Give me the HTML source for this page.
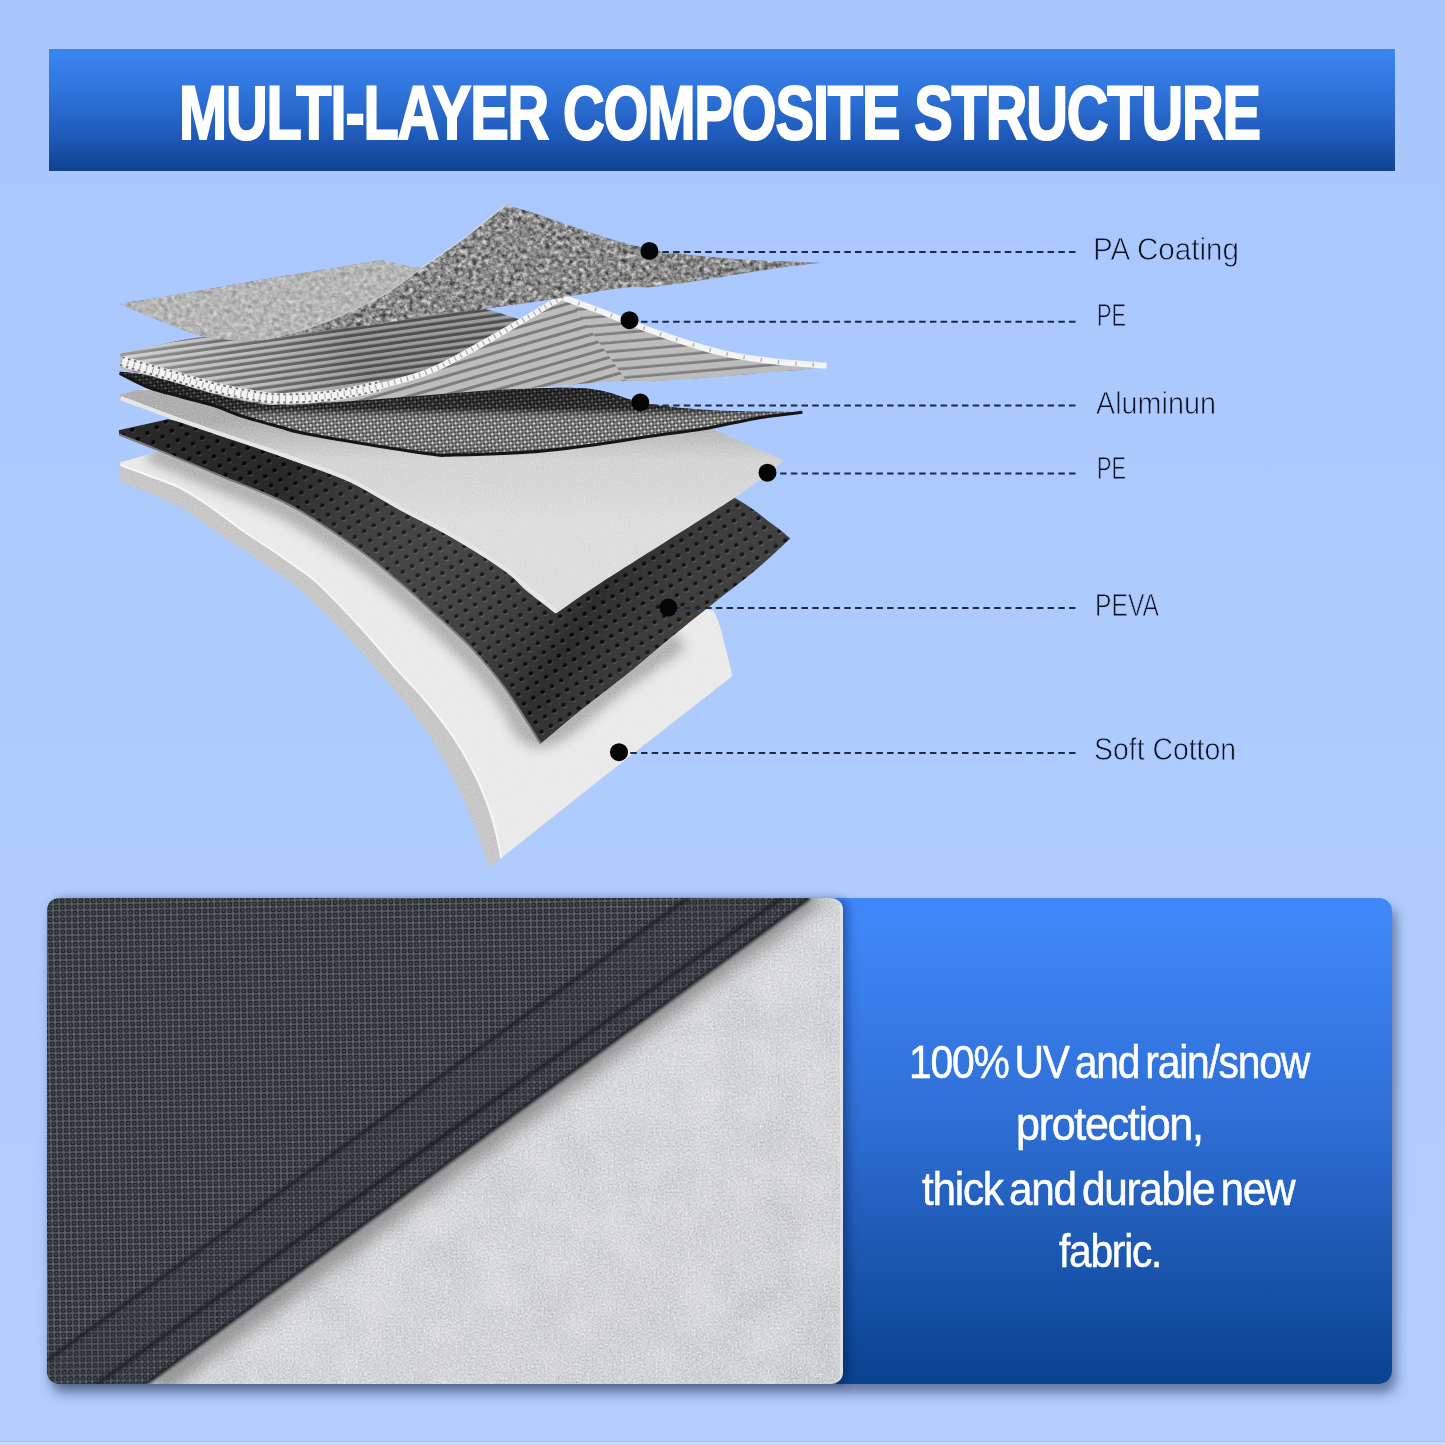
<!DOCTYPE html>
<html><head><meta charset="utf-8"><style>
*{margin:0;padding:0;box-sizing:border-box}
html,body{width:1445px;height:1445px;overflow:hidden}
body{background:linear-gradient(#a9c7fd,#afccfd 60%,#b2cefd);position:relative;font-family:"Liberation Sans",sans-serif}
#banner{position:absolute;left:49px;top:49px;width:1346px;height:122px;background:linear-gradient(#3a86f0 0%,#2f74db 35%,#1f5bbb 70%,#0f4290 100%)}
.ttl{position:absolute;color:#fff;font-weight:bold;line-height:1;white-space:nowrap;transform-origin:0 0;letter-spacing:-0.02em;-webkit-text-stroke:0.028em #fff}
svg{position:absolute;left:0;top:0}
.lab{position:absolute;line-height:1;color:#0b0f22;white-space:nowrap;transform-origin:0 0;-webkit-text-stroke:0.8px #abc9fe}
.bt{position:absolute;line-height:1;color:#fff;white-space:nowrap;transform-origin:0 0;letter-spacing:-0.03em;word-spacing:-0.1em;-webkit-text-stroke:0.012em #fff}
#panel{position:absolute;left:47px;top:898px;width:1345px;height:486px;border-radius:13px;background:linear-gradient(#4189fb,#2f6fd6 45%,#0a428f);box-shadow:4px 9px 12px rgba(25,35,75,0.5)}
#photo{position:absolute;left:47px;top:898px;width:796px;height:486px;border-radius:12px;overflow:hidden;box-shadow:6px 0 8px rgba(0,20,60,0.35)}
</style></head><body>
<div id="banner"></div>
<div class="ttl" style="left:179.41px;top:75.81px;font-size:75.63px;transform:scaleX(0.7640);">MULTI-LAYER COMPOSITE STRUCTURE</div>
<svg width="1445" height="1445" viewBox="0 0 1445 1445">
<defs>
<filter id="nz" x="0" y="0" width="1" height="1" filterUnits="objectBoundingBox" color-interpolation-filters="sRGB">
<feTurbulence type="fractalNoise" baseFrequency="0.22" numOctaves="3" seed="4"/>
<feColorMatrix type="matrix" values="0.33 0.33 0.33 0 0  0.33 0.33 0.33 0 0  0.33 0.33 0.33 0 0  0 0 0 0 1"/>
<feComponentTransfer><feFuncR type="linear" slope="2.6" intercept="-0.8"/><feFuncG type="linear" slope="2.6" intercept="-0.8"/><feFuncB type="linear" slope="2.6" intercept="-0.8"/></feComponentTransfer>
</filter>
<filter id="nz2" x="0" y="0" width="1" height="1" filterUnits="objectBoundingBox" color-interpolation-filters="sRGB">
<feTurbulence type="fractalNoise" baseFrequency="0.9" numOctaves="2" seed="7"/>
<feColorMatrix type="matrix" values="0.33 0.33 0.33 0 0  0.33 0.33 0.33 0 0  0.33 0.33 0.33 0 0  0 0 0 0 1"/>
<feComponentTransfer><feFuncR type="linear" slope="2" intercept="-0.5"/><feFuncG type="linear" slope="2" intercept="-0.5"/><feFuncB type="linear" slope="2" intercept="-0.5"/></feComponentTransfer>
</filter>
<filter id="bl3" x="-0.2" y="-0.2" width="1.4" height="1.4"><feGaussianBlur stdDeviation="3"/></filter>
<filter id="bl6" x="-0.2" y="-0.2" width="1.4" height="1.4"><feGaussianBlur stdDeviation="6"/></filter>
<filter id="bl10" x="-0.3" y="-0.3" width="1.6" height="1.6"><feGaussianBlur stdDeviation="10"/></filter>
<pattern id="stripesL" width="9" height="6.6" patternUnits="userSpaceOnUse" patternTransform="rotate(-8)"><rect width="9" height="6.6" fill="#b8b8b8"/><rect y="3.4" width="9" height="3.2" fill="#5e5e5e"/></pattern>
<linearGradient id="peLShade" gradientUnits="userSpaceOnUse" x1="150" y1="390" x2="330" y2="300"><stop offset="0" stop-color="#fff" stop-opacity="0.35"/><stop offset="0.45" stop-color="#fff" stop-opacity="0.1"/><stop offset="1" stop-color="#000" stop-opacity="0.15"/></linearGradient>
<pattern id="stripesR" width="9" height="9" patternUnits="userSpaceOnUse" patternTransform="rotate(-16)"><rect width="9" height="9" fill="#bcbcbc"/><rect y="6" width="9" height="3" fill="#7c7c7c"/></pattern>
<pattern id="stripesR2" width="9" height="9" patternUnits="userSpaceOnUse" patternTransform="rotate(-5)"><rect width="9" height="9" fill="#bcbcbc"/><rect y="6.3" width="9" height="2.7" fill="#7e7e7e"/></pattern>
<pattern id="checker" width="5" height="5" patternUnits="userSpaceOnUse" patternTransform="rotate(40)"><rect width="5" height="5" fill="#2a2a2a"/><rect width="2.5" height="2.5" fill="#d0d0d0"/><rect x="2.5" y="2.5" width="2.5" height="2.5" fill="#777"/></pattern>
<pattern id="holes" width="11" height="11" patternUnits="userSpaceOnUse" patternTransform="rotate(-32)"><rect width="11" height="11" fill="#363636"/><circle cx="5.5" cy="5.5" r="2.3" fill="#080808"/><path d="M3.4,6.9 a2.4,2.4 0 0 0 4.2,0.3" stroke="#8a8a8a" stroke-width="0.7" fill="none"/></pattern>
<linearGradient id="pevaSheen" gradientUnits="userSpaceOnUse" x1="300" y1="450" x2="700" y2="700"><stop offset="0" stop-color="#000" stop-opacity="0.25"/><stop offset="0.45" stop-color="#fff" stop-opacity="0.07"/><stop offset="0.7" stop-color="#000" stop-opacity="0.15"/><stop offset="1" stop-color="#fff" stop-opacity="0.05"/></linearGradient>
<linearGradient id="aluShade" gradientUnits="userSpaceOnUse" x1="0" y1="388" x2="0" y2="456"><stop offset="0" stop-color="#000" stop-opacity="0.6"/><stop offset="0.3" stop-color="#000" stop-opacity="0.5"/><stop offset="0.5" stop-color="#fff" stop-opacity="0.15"/><stop offset="0.85" stop-color="#fff" stop-opacity="0.15"/><stop offset="1" stop-color="#000" stop-opacity="0.25"/></linearGradient>
<linearGradient id="pe2Shade" gradientUnits="userSpaceOnUse" x1="0" y1="420" x2="0" y2="520"><stop offset="0" stop-color="#000" stop-opacity="0.2"/><stop offset="0.4" stop-color="#000" stop-opacity="0.03"/><stop offset="1" stop-color="#fff" stop-opacity="0.05"/></linearGradient>

<clipPath id="cCotO"><path d="M119.9,462.4 C132.5,458.8 145.2,455.1 157.8,451.5 C238.5,477.7 326.3,507.8 400.0,530.0 C473.7,552.2 547.8,571.6 600.0,585.0 C652.2,598.4 675.7,601.9 713.5,610.4 C715.8,616.2 717.2,616.8 720.4,627.7 C723.6,638.7 728.5,660.0 732.5,676.1 C678.3,718.5 608.6,773.0 570.0,803.4 C531.4,833.8 514.5,847.5 501.0,858.2 C487.5,868.9 493.0,864.5 489.0,867.6 C485.5,857.4 482.8,848.3 478.6,837.0 C474.4,825.7 469.2,812.2 463.6,799.7 C458.0,787.2 452.2,775.2 444.9,762.3 C437.6,749.3 431.7,737.8 420.0,722.0 C408.3,706.2 389.1,684.3 374.6,667.6 C360.1,650.9 345.4,634.9 333.0,622.0 C320.6,609.1 309.7,598.6 300.0,590.0 C290.3,581.4 284.0,577.1 274.6,570.4 C265.2,563.7 253.8,556.6 243.4,549.7 C233.0,542.8 222.7,535.8 212.3,528.9 C201.9,522.0 191.5,514.0 181.1,508.1 C170.7,502.2 160.2,498.1 150.0,493.6 C139.8,489.1 130.0,485.2 120.0,481.0 C120.0,474.8 119.9,468.6 119.9,462.4Z"/></clipPath><clipPath id="cCotT"><path d="M119.9,462.4 C132.5,458.8 145.2,455.1 157.8,451.5 C238.5,477.7 326.3,507.8 400.0,530.0 C473.7,552.2 547.8,571.6 600.0,585.0 C652.2,598.4 675.7,601.9 713.5,610.4 C715.8,616.2 717.2,616.8 720.4,627.7 C723.6,638.7 728.5,660.0 732.5,676.1 C678.3,718.5 608.6,773.0 570.0,803.4 C531.4,833.8 524.0,839.9 501.0,858.2 C500.6,855.3 501.1,856.1 499.7,849.5 C498.2,842.9 496.0,830.0 492.3,818.4 C488.6,806.8 483.8,793.2 477.3,779.7 C470.9,766.2 462.3,750.7 453.6,737.4 C444.9,724.1 434.7,711.6 425.0,700.0 C415.3,688.4 406.0,679.7 395.3,667.6 C384.6,655.5 373.4,641.3 360.7,627.5 C348.0,613.7 329.3,594.3 319.2,584.6 C309.1,574.9 307.4,574.9 300.0,569.4 C292.6,563.9 284.0,558.1 274.6,551.7 C265.2,545.3 253.8,538.3 243.4,531.0 C233.0,523.7 222.7,515.2 212.3,508.1 C201.9,501.0 191.5,493.8 181.1,488.4 C170.7,483.0 160.1,479.9 150.0,476.0 C139.9,472.1 130.3,468.7 120.5,465.0 C120.3,464.1 120.1,463.3 119.9,462.4Z"/></clipPath><clipPath id="cPeva"><path d="M118.8,430.2 C135.2,426.6 151.7,422.9 168.1,419.3 C245.4,436.2 334.7,466.6 400.0,470.0 C465.3,473.4 518.3,442.5 560.0,440.0 C601.7,437.5 621.1,445.5 650.0,455.0 C678.9,464.5 712.7,485.3 733.2,496.9 C753.7,508.5 763.5,517.7 773.0,524.6 C782.5,531.5 784.5,533.8 790.3,538.4 C778.8,548.9 768.7,559.1 755.7,570.0 C742.7,580.9 727.0,592.5 712.5,604.0 C698.0,615.5 682.8,627.7 669.0,639.0 C655.2,650.3 644.5,660.0 630.0,671.7 C615.5,683.4 597.1,697.0 582.2,709.0 C567.3,721.0 554.5,732.1 540.7,743.6 C529.2,725.6 517.6,705.6 506.1,689.7 C494.6,673.8 484.2,661.5 471.5,648.1 C458.8,634.7 441.6,620.0 430.0,609.4 C418.4,598.8 414.0,594.5 402.2,584.6 C390.4,574.7 377.9,563.2 359.3,550.0 C340.7,536.8 313.4,517.8 290.3,505.5 C267.2,493.2 243.3,485.4 221.0,476.0 C198.7,466.6 173.6,456.3 156.7,449.4 C139.8,442.5 131.8,439.5 119.3,434.5 C119.1,433.1 119.0,431.6 118.8,430.2Z"/></clipPath><clipPath id="cPe2"><path d="M120.4,394.6 C129.9,392.7 135.5,388.3 148.8,389.0 C162.1,389.7 174.8,393.0 200.0,399.0 C225.2,405.0 258.3,417.2 300.0,425.0 C341.7,432.8 400.0,444.2 450.0,446.0 C500.0,447.8 561.7,441.2 600.0,436.0 C638.3,430.8 653.3,422.0 680.0,415.0 C714.8,430.2 749.5,445.4 784.3,460.6 C769.0,472.1 769.1,474.7 738.4,495.2 C707.7,515.7 630.4,563.7 600.0,583.4 C569.6,603.1 570.7,603.5 556.0,613.5 C545.8,605.7 533.9,597.0 525.5,590.0 C517.1,583.0 517.6,579.9 505.7,571.3 C493.8,562.7 471.1,548.5 453.8,538.4 C436.5,528.3 419.2,520.1 401.9,510.7 C384.6,501.3 367.0,489.9 350.0,482.0 C333.0,474.1 314.5,468.3 300.0,463.0 C285.5,457.7 276.2,454.7 263.0,450.0 C249.8,445.3 236.8,440.4 221.0,435.0 C205.2,429.6 185.0,423.4 168.1,417.3 C151.2,411.2 135.8,404.7 119.7,398.4 C119.9,397.1 120.2,395.9 120.4,394.6Z"/></clipPath><clipPath id="cAlu"><path d="M119.7,371.5 C179.8,378.3 244.9,388.8 300.0,392.0 C355.1,395.2 403.6,391.7 450.0,391.0 C496.4,390.3 548.6,386.6 578.6,388.0 C608.6,389.4 619.8,396.9 630.0,399.4 C640.2,401.9 627.5,401.1 639.8,402.8 C652.1,404.5 676.7,408.1 703.8,409.7 C730.9,411.3 769.5,411.4 802.4,412.3 C786.8,414.3 772.1,415.6 755.7,418.4 C739.3,421.1 721.1,425.9 703.8,428.8 C686.5,431.7 669.2,433.5 651.9,436.0 C634.6,438.5 620.3,441.3 600.0,444.0 C579.7,446.7 554.4,450.2 530.0,452.0 C505.6,453.8 470.5,454.7 453.8,455.0 C437.1,455.3 446.8,456.2 430.0,454.0 C413.2,451.8 374.7,445.5 353.0,442.0 C331.3,438.5 312.2,435.4 300.0,433.0 C287.8,430.6 290.0,430.3 280.0,427.5 C270.0,424.7 251.0,419.5 240.0,416.0 C229.0,412.5 224.0,409.7 214.0,406.5 C204.0,403.3 190.9,400.1 180.0,397.0 C169.1,393.9 158.9,391.8 148.8,388.0 C138.8,384.2 129.4,379.0 119.7,374.5 C119.7,373.5 119.7,372.5 119.7,371.5Z"/></clipPath><clipPath id="cPe"><path d="M120.4,353.8 C144.6,348.6 169.7,341.8 193.0,338.2 C216.3,334.6 233.8,334.7 260.0,332.0 C286.2,329.3 321.7,325.2 350.0,322.0 C378.3,318.8 408.8,314.8 430.0,312.5 C451.2,310.2 462.1,306.9 477.0,308.0 C491.9,309.1 505.3,315.6 519.4,319.4 C533.6,311.1 547.8,302.8 562.0,294.5 C574.7,299.3 590.3,305.1 600.0,309.0 C609.7,312.9 608.6,313.5 620.1,318.0 C631.6,322.5 652.4,330.4 669.2,336.0 C686.0,341.6 703.7,347.6 721.0,351.6 C738.3,355.7 755.4,358.0 773.0,360.3 C790.6,362.6 808.7,363.8 826.6,365.6 C820.3,366.7 819.4,367.7 807.6,369.0 C795.8,370.3 773.0,371.9 755.7,373.4 C738.4,374.8 721.1,376.4 703.8,377.7 C686.5,379.0 664.2,380.7 651.9,381.2 C639.6,381.7 642.2,380.0 630.0,380.5 C617.8,381.0 595.3,382.8 578.6,384.0 C561.9,385.2 546.4,386.8 530.0,388.0 C513.6,389.2 496.7,389.8 480.0,391.0 C463.3,392.2 446.7,393.7 430.0,395.0 C413.3,396.3 396.4,397.8 380.0,399.0 C363.6,400.2 348.6,401.3 331.9,402.3 C315.2,403.3 293.6,405.1 280.0,405.0 C266.4,404.9 261.0,403.8 250.0,402.0 C239.0,400.2 225.7,397.0 214.0,394.0 C202.3,391.0 190.7,387.0 180.0,384.0 C169.3,381.0 159.8,378.5 150.0,376.0 C140.2,373.5 130.9,371.3 121.4,369.0 C121.1,363.9 120.7,358.9 120.4,353.8Z"/></clipPath><clipPath id="cPa"><path d="M120.4,304.0 C141.2,300.5 159.4,297.6 182.7,293.6 C206.0,289.6 232.1,284.8 260.0,280.1 C287.9,275.4 330.0,268.8 350.0,265.5 C370.0,262.2 373.3,261.2 380.0,260.6 C386.7,260.1 385.2,261.2 390.4,262.2 C395.6,263.2 405.8,265.9 411.0,266.8 C416.2,267.8 418.0,267.5 421.5,267.9 C435.3,258.2 449.0,249.3 463.0,238.8 C477.0,228.3 491.4,216.3 505.6,205.0 C513.7,207.3 514.3,206.7 530.0,211.8 C545.7,216.9 582.6,230.2 600.0,235.8 C617.4,241.4 623.1,242.7 634.6,245.4 C646.1,248.2 651.9,250.0 669.2,252.3 C686.5,254.6 713.0,257.5 738.4,259.2 C763.8,260.9 793.8,261.5 821.5,262.7 C805.3,264.7 792.6,265.8 773.0,268.7 C753.4,271.6 724.0,277.0 703.8,280.0 C683.6,283.0 664.2,285.7 651.9,286.9 C639.6,288.1 638.6,286.6 630.0,287.3 C621.4,288.0 614.6,288.9 600.0,291.2 C585.4,293.4 562.0,297.8 542.3,300.8 C522.6,303.8 500.1,307.1 481.7,309.4 C463.3,311.7 448.9,312.2 432.0,314.6 C415.1,317.0 397.0,321.4 380.0,324.0 C363.0,326.6 345.0,328.0 330.0,330.0 C315.0,332.0 301.7,334.3 290.0,336.0 C278.3,337.7 271.0,339.8 260.0,340.3 C249.0,340.9 234.5,340.2 224.2,339.3 C213.9,338.4 208.6,338.1 198.2,335.1 C187.8,332.2 174.9,326.8 161.9,321.6 C148.9,316.4 134.2,309.9 120.4,304.0Z"/></clipPath><clipPath id="cPaL"><path d="M120.4,304.0 C141.2,300.5 159.4,297.6 182.7,293.6 C206.0,289.6 232.1,284.8 260.0,280.1 C287.9,275.4 330.0,268.8 350.0,265.5 C370.0,262.2 373.3,261.2 380.0,260.6 C386.7,260.1 385.2,261.2 390.4,262.2 C395.6,263.2 405.8,265.9 411.0,266.8 C416.2,267.8 418.0,267.5 421.5,267.9 C414.6,273.1 407.7,278.5 400.8,283.4 C393.9,288.2 391.8,290.9 380.0,297.0 C368.2,303.1 345.0,313.8 330.0,320.0 C315.0,326.2 301.7,330.6 290.0,334.0 C278.3,337.4 271.0,339.4 260.0,340.3 C249.0,341.2 234.5,340.2 224.2,339.3 C213.9,338.4 208.6,338.1 198.2,335.1 C187.8,332.2 174.9,326.8 161.9,321.6 C148.9,316.4 134.2,309.9 120.4,304.0Z"/></clipPath><clipPath id="cPeL"><path d="M120.4,353.8 C144.6,348.6 169.7,341.8 193.0,338.2 C216.3,334.6 233.8,334.7 260.0,332.0 C286.2,329.3 321.7,325.2 350.0,322.0 C378.3,318.8 408.8,314.8 430.0,312.5 C451.2,310.2 462.1,306.9 477.0,308.0 C491.9,309.1 505.3,315.6 519.4,319.4 C533.6,311.1 547.8,302.8 562.0,294.5 C534.7,311.3 502.0,332.2 480.0,345.0 C458.0,357.8 446.7,364.2 430.0,371.0 C413.3,377.8 396.4,381.9 380.0,386.0 C363.6,390.1 348.6,393.4 331.9,395.5 C315.2,397.6 293.6,398.6 280.0,398.5 C266.4,398.4 261.0,396.8 250.0,395.0 C239.0,393.2 225.7,390.3 214.0,387.5 C202.3,384.7 190.7,381.0 180.0,378.0 C169.3,375.0 159.8,372.3 150.0,369.5 C140.2,366.7 125.8,362.4 121.0,361.0 C116.2,359.6 121.0,361.0 121.0,361.0 C120.8,358.6 120.6,356.2 120.4,353.8Z"/></clipPath>
</defs>
<path d="M119.9,462.4 C132.5,458.8 145.2,455.1 157.8,451.5 C238.5,477.7 326.3,507.8 400.0,530.0 C473.7,552.2 547.8,571.6 600.0,585.0 C652.2,598.4 675.7,601.9 713.5,610.4 C715.8,616.2 717.2,616.8 720.4,627.7 C723.6,638.7 728.5,660.0 732.5,676.1 C678.3,718.5 608.6,773.0 570.0,803.4 C531.4,833.8 514.5,847.5 501.0,858.2 C487.5,868.9 493.0,864.5 489.0,867.6 C485.5,857.4 482.8,848.3 478.6,837.0 C474.4,825.7 469.2,812.2 463.6,799.7 C458.0,787.2 452.2,775.2 444.9,762.3 C437.6,749.3 431.7,737.8 420.0,722.0 C408.3,706.2 389.1,684.3 374.6,667.6 C360.1,650.9 345.4,634.9 333.0,622.0 C320.6,609.1 309.7,598.6 300.0,590.0 C290.3,581.4 284.0,577.1 274.6,570.4 C265.2,563.7 253.8,556.6 243.4,549.7 C233.0,542.8 222.7,535.8 212.3,528.9 C201.9,522.0 191.5,514.0 181.1,508.1 C170.7,502.2 160.2,498.1 150.0,493.6 C139.8,489.1 130.0,485.2 120.0,481.0 C120.0,474.8 119.9,468.6 119.9,462.4Z" fill="#c8c8c8"/>
<path d="M119.9,462.4 C132.5,458.8 145.2,455.1 157.8,451.5 C238.5,477.7 326.3,507.8 400.0,530.0 C473.7,552.2 547.8,571.6 600.0,585.0 C652.2,598.4 675.7,601.9 713.5,610.4 C715.8,616.2 717.2,616.8 720.4,627.7 C723.6,638.7 728.5,660.0 732.5,676.1 C678.3,718.5 608.6,773.0 570.0,803.4 C531.4,833.8 524.0,839.9 501.0,858.2 C500.6,855.3 501.1,856.1 499.7,849.5 C498.2,842.9 496.0,830.0 492.3,818.4 C488.6,806.8 483.8,793.2 477.3,779.7 C470.9,766.2 462.3,750.7 453.6,737.4 C444.9,724.1 434.7,711.6 425.0,700.0 C415.3,688.4 406.0,679.7 395.3,667.6 C384.6,655.5 373.4,641.3 360.7,627.5 C348.0,613.7 329.3,594.3 319.2,584.6 C309.1,574.9 307.4,574.9 300.0,569.4 C292.6,563.9 284.0,558.1 274.6,551.7 C265.2,545.3 253.8,538.3 243.4,531.0 C233.0,523.7 222.7,515.2 212.3,508.1 C201.9,501.0 191.5,493.8 181.1,488.4 C170.7,483.0 160.1,479.9 150.0,476.0 C139.9,472.1 130.3,468.7 120.5,465.0 C120.3,464.1 120.1,463.3 119.9,462.4Z" fill="#ebebeb"/>
<g clip-path="url(#cCotT)"><path d="M150.0,452.0 C173.7,462.0 197.7,472.0 221.0,482.0 C244.3,492.0 267.0,499.5 290.0,512.0 C313.0,524.5 340.3,543.7 359.0,557.0 C377.7,570.3 390.2,582.0 402.0,592.0 C413.8,602.0 418.5,606.3 430.0,617.0 C441.5,627.7 458.3,642.5 471.0,656.0 C483.7,669.5 496.2,684.8 506.0,698.0 C515.8,711.2 521.0,729.7 530.0,735.0 C539.0,740.3 546.7,737.5 560.0,730.0 C573.3,722.5 590.0,705.0 610.0,690.0 C630.0,675.0 656.7,656.7 680.0,640.0" stroke="#8a8a8a" stroke-width="20" fill="none" filter="url(#bl6)" opacity="0.6"/></g>
<g clip-path="url(#cCotO)" style="mix-blend-mode:overlay" opacity="0.25"><rect x="110" y="440" width="640" height="440" fill="#808080" filter="url(#nz2)"/></g>
<path d="M120.5,465.0 C130.3,468.7 139.9,472.1 150.0,476.0 C160.1,479.9 170.7,483.0 181.1,488.4 C191.5,493.8 201.9,501.0 212.3,508.1 C222.7,515.2 233.0,523.7 243.4,531.0 C253.8,538.3 265.2,545.3 274.6,551.7 C284.0,558.1 292.6,563.9 300.0,569.4 C307.4,574.9 309.1,574.9 319.2,584.6 C329.3,594.3 348.0,613.7 360.7,627.5 C373.4,641.3 384.6,655.5 395.3,667.6 C406.0,679.7 415.3,688.4 425.0,700.0 C434.7,711.6 444.9,724.1 453.6,737.4 C462.3,750.7 470.9,766.2 477.3,779.7 C483.8,793.2 488.6,806.8 492.3,818.4 C496.0,830.0 498.2,842.9 499.7,849.5 C501.1,856.1 500.6,855.3 501.0,858.2" stroke="#f7f7f7" stroke-width="2" fill="none"/>
<path d="M118.8,430.2 C135.2,426.6 151.7,422.9 168.1,419.3 C245.4,436.2 334.7,466.6 400.0,470.0 C465.3,473.4 518.3,442.5 560.0,440.0 C601.7,437.5 621.1,445.5 650.0,455.0 C678.9,464.5 712.7,485.3 733.2,496.9 C753.7,508.5 763.5,517.7 773.0,524.6 C782.5,531.5 784.5,533.8 790.3,538.4 C778.8,548.9 768.7,559.1 755.7,570.0 C742.7,580.9 727.0,592.5 712.5,604.0 C698.0,615.5 682.8,627.7 669.0,639.0 C655.2,650.3 644.5,660.0 630.0,671.7 C615.5,683.4 597.1,697.0 582.2,709.0 C567.3,721.0 554.5,732.1 540.7,743.6 C529.2,725.6 517.6,705.6 506.1,689.7 C494.6,673.8 484.2,661.5 471.5,648.1 C458.8,634.7 441.6,620.0 430.0,609.4 C418.4,598.8 414.0,594.5 402.2,584.6 C390.4,574.7 377.9,563.2 359.3,550.0 C340.7,536.8 313.4,517.8 290.3,505.5 C267.2,493.2 243.3,485.4 221.0,476.0 C198.7,466.6 173.6,456.3 156.7,449.4 C139.8,442.5 131.8,439.5 119.3,434.5 C119.1,433.1 119.0,431.6 118.8,430.2Z" fill="url(#holes)"/>
<path d="M118.8,430.2 C135.2,426.6 151.7,422.9 168.1,419.3 C245.4,436.2 334.7,466.6 400.0,470.0 C465.3,473.4 518.3,442.5 560.0,440.0 C601.7,437.5 621.1,445.5 650.0,455.0 C678.9,464.5 712.7,485.3 733.2,496.9 C753.7,508.5 763.5,517.7 773.0,524.6 C782.5,531.5 784.5,533.8 790.3,538.4 C778.8,548.9 768.7,559.1 755.7,570.0 C742.7,580.9 727.0,592.5 712.5,604.0 C698.0,615.5 682.8,627.7 669.0,639.0 C655.2,650.3 644.5,660.0 630.0,671.7 C615.5,683.4 597.1,697.0 582.2,709.0 C567.3,721.0 554.5,732.1 540.7,743.6 C529.2,725.6 517.6,705.6 506.1,689.7 C494.6,673.8 484.2,661.5 471.5,648.1 C458.8,634.7 441.6,620.0 430.0,609.4 C418.4,598.8 414.0,594.5 402.2,584.6 C390.4,574.7 377.9,563.2 359.3,550.0 C340.7,536.8 313.4,517.8 290.3,505.5 C267.2,493.2 243.3,485.4 221.0,476.0 C198.7,466.6 173.6,456.3 156.7,449.4 C139.8,442.5 131.8,439.5 119.3,434.5 C119.1,433.1 119.0,431.6 118.8,430.2Z" fill="url(#pevaSheen)"/>
<path d="M119.3,434.5 C131.8,439.5 139.8,442.5 156.7,449.4 C173.6,456.3 198.7,466.6 221.0,476.0 C243.3,485.4 267.2,493.2 290.3,505.5 C313.4,517.8 340.7,536.8 359.3,550.0 C377.9,563.2 390.4,574.7 402.2,584.6 C414.0,594.5 418.4,598.8 430.0,609.4 C441.6,620.0 458.8,634.7 471.5,648.1 C484.2,661.5 494.6,673.8 506.1,689.7 C517.6,705.6 529.2,725.6 540.7,743.6" stroke="#7a7a7a" stroke-width="2" fill="none"/>
<path d="M120.4,394.6 C129.9,392.7 135.5,388.3 148.8,389.0 C162.1,389.7 174.8,393.0 200.0,399.0 C225.2,405.0 258.3,417.2 300.0,425.0 C341.7,432.8 400.0,444.2 450.0,446.0 C500.0,447.8 561.7,441.2 600.0,436.0 C638.3,430.8 653.3,422.0 680.0,415.0 C714.8,430.2 749.5,445.4 784.3,460.6 C769.0,472.1 769.1,474.7 738.4,495.2 C707.7,515.7 630.4,563.7 600.0,583.4 C569.6,603.1 570.7,603.5 556.0,613.5 C545.8,605.7 533.9,597.0 525.5,590.0 C517.1,583.0 517.6,579.9 505.7,571.3 C493.8,562.7 471.1,548.5 453.8,538.4 C436.5,528.3 419.2,520.1 401.9,510.7 C384.6,501.3 367.0,489.9 350.0,482.0 C333.0,474.1 314.5,468.3 300.0,463.0 C285.5,457.7 276.2,454.7 263.0,450.0 C249.8,445.3 236.8,440.4 221.0,435.0 C205.2,429.6 185.0,423.4 168.1,417.3 C151.2,411.2 135.8,404.7 119.7,398.4 C119.9,397.1 120.2,395.9 120.4,394.6Z" fill="#dcdcdc"/>
<g clip-path="url(#cPe2)"><rect x="110" y="390" width="690" height="230" fill="url(#pe2Shade)"/></g><g clip-path="url(#cPe2)" style="mix-blend-mode:overlay" opacity="0.3"><rect x="110" y="390" width="690" height="230" fill="#808080" filter="url(#nz2)"/></g>
<path d="M120.4,398.0 C140.3,405.3 163.2,414.0 180.0,420.0 C196.8,426.0 207.2,429.3 221.0,434.0 C234.8,438.7 249.8,443.5 263.0,448.0 C276.2,452.5 285.5,455.7 300.0,461.0 C314.5,466.3 333.0,472.0 350.0,480.0 C367.0,488.0 384.6,499.6 401.9,509.0 C419.2,518.4 436.5,526.4 453.8,536.5 C471.1,546.6 488.7,557.0 505.7,569.5 C522.7,582.0 539.2,597.5 556.0,611.5" stroke="#e6e6e6" stroke-width="4" fill="none"/>
<path d="M119.7,371.5 C179.8,378.3 244.9,388.8 300.0,392.0 C355.1,395.2 403.6,391.7 450.0,391.0 C496.4,390.3 548.6,386.6 578.6,388.0 C608.6,389.4 619.8,396.9 630.0,399.4 C640.2,401.9 627.5,401.1 639.8,402.8 C652.1,404.5 676.7,408.1 703.8,409.7 C730.9,411.3 769.5,411.4 802.4,412.3 C786.8,414.3 772.1,415.6 755.7,418.4 C739.3,421.1 721.1,425.9 703.8,428.8 C686.5,431.7 669.2,433.5 651.9,436.0 C634.6,438.5 620.3,441.3 600.0,444.0 C579.7,446.7 554.4,450.2 530.0,452.0 C505.6,453.8 470.5,454.7 453.8,455.0 C437.1,455.3 446.8,456.2 430.0,454.0 C413.2,451.8 374.7,445.5 353.0,442.0 C331.3,438.5 312.2,435.4 300.0,433.0 C287.8,430.6 290.0,430.3 280.0,427.5 C270.0,424.7 251.0,419.5 240.0,416.0 C229.0,412.5 224.0,409.7 214.0,406.5 C204.0,403.3 190.9,400.1 180.0,397.0 C169.1,393.9 158.9,391.8 148.8,388.0 C138.8,384.2 129.4,379.0 119.7,374.5 C119.7,373.5 119.7,372.5 119.7,371.5Z" fill="url(#checker)"/>
<g clip-path="url(#cAlu)"><rect x="110" y="360" width="700" height="100" fill="url(#aluShade)"/></g>
<path d="M119.7,373.5 C129.4,378.2 138.8,383.7 148.8,387.5 C158.9,391.3 169.1,393.5 180.0,396.5 C190.9,399.5 204.0,402.3 214.0,405.5 C224.0,408.7 229.0,411.9 240.0,415.5 C251.0,419.1 270.0,424.2 280.0,427.0 C290.0,429.8 287.8,430.0 300.0,432.5 C312.2,435.0 331.3,438.4 353.0,442.0 C374.7,445.6 413.2,451.8 430.0,454.0 C446.8,456.2 437.1,455.3 453.8,455.0 C470.5,454.7 505.6,453.8 530.0,452.0 C554.4,450.2 579.7,446.7 600.0,444.0 C620.3,441.3 634.6,438.5 651.9,436.0 C669.2,433.5 686.5,431.7 703.8,428.8 C721.1,425.9 739.3,421.1 755.7,418.4 C772.1,415.6 786.8,414.3 802.4,412.3" stroke="#151515" stroke-width="3" fill="none"/>
<path d="M120.4,353.8 C144.6,348.6 169.7,341.8 193.0,338.2 C216.3,334.6 233.8,334.7 260.0,332.0 C286.2,329.3 321.7,325.2 350.0,322.0 C378.3,318.8 408.8,314.8 430.0,312.5 C451.2,310.2 462.1,306.9 477.0,308.0 C491.9,309.1 505.3,315.6 519.4,319.4 C533.6,311.1 547.8,302.8 562.0,294.5 C574.7,299.3 590.3,305.1 600.0,309.0 C609.7,312.9 608.6,313.5 620.1,318.0 C631.6,322.5 652.4,330.4 669.2,336.0 C686.0,341.6 703.7,347.6 721.0,351.6 C738.3,355.7 755.4,358.0 773.0,360.3 C790.6,362.6 808.7,363.8 826.6,365.6 C820.3,366.7 819.4,367.7 807.6,369.0 C795.8,370.3 773.0,371.9 755.7,373.4 C738.4,374.8 721.1,376.4 703.8,377.7 C686.5,379.0 664.2,380.7 651.9,381.2 C639.6,381.7 642.2,380.0 630.0,380.5 C617.8,381.0 595.3,382.8 578.6,384.0 C561.9,385.2 546.4,386.8 530.0,388.0 C513.6,389.2 496.7,389.8 480.0,391.0 C463.3,392.2 446.7,393.7 430.0,395.0 C413.3,396.3 396.4,397.8 380.0,399.0 C363.6,400.2 348.6,401.3 331.9,402.3 C315.2,403.3 293.6,405.1 280.0,405.0 C266.4,404.9 261.0,403.8 250.0,402.0 C239.0,400.2 225.7,397.0 214.0,394.0 C202.3,391.0 190.7,387.0 180.0,384.0 C169.3,381.0 159.8,378.5 150.0,376.0 C140.2,373.5 130.9,371.3 121.4,369.0 C121.1,363.9 120.7,358.9 120.4,353.8Z" fill="url(#stripesR)"/>
<g clip-path="url(#cPe)"><path d="M562,290 L840,280 L840,400 L640,400 Z" fill="url(#stripesR2)"/></g>
<path d="M120.4,353.8 C144.6,348.6 169.7,341.8 193.0,338.2 C216.3,334.6 233.8,334.7 260.0,332.0 C286.2,329.3 321.7,325.2 350.0,322.0 C378.3,318.8 408.8,314.8 430.0,312.5 C451.2,310.2 462.1,306.9 477.0,308.0 C491.9,309.1 505.3,315.6 519.4,319.4 C533.6,311.1 547.8,302.8 562.0,294.5 C534.7,311.3 502.0,332.2 480.0,345.0 C458.0,357.8 446.7,364.2 430.0,371.0 C413.3,377.8 396.4,381.9 380.0,386.0 C363.6,390.1 348.6,393.4 331.9,395.5 C315.2,397.6 293.6,398.6 280.0,398.5 C266.4,398.4 261.0,396.8 250.0,395.0 C239.0,393.2 225.7,390.3 214.0,387.5 C202.3,384.7 190.7,381.0 180.0,378.0 C169.3,375.0 159.8,372.3 150.0,369.5 C140.2,366.7 125.8,362.4 121.0,361.0 C116.2,359.6 121.0,361.0 121.0,361.0 C120.8,358.6 120.6,356.2 120.4,353.8Z" fill="url(#stripesL)"/>
<path d="M120.4,353.8 C144.6,348.6 169.7,341.8 193.0,338.2 C216.3,334.6 233.8,334.7 260.0,332.0 C286.2,329.3 321.7,325.2 350.0,322.0 C378.3,318.8 408.8,314.8 430.0,312.5 C451.2,310.2 462.1,306.9 477.0,308.0 C491.9,309.1 505.3,315.6 519.4,319.4 C533.6,311.1 547.8,302.8 562.0,294.5 C534.7,311.3 502.0,332.2 480.0,345.0 C458.0,357.8 446.7,364.2 430.0,371.0 C413.3,377.8 396.4,381.9 380.0,386.0 C363.6,390.1 348.6,393.4 331.9,395.5 C315.2,397.6 293.6,398.6 280.0,398.5 C266.4,398.4 261.0,396.8 250.0,395.0 C239.0,393.2 225.7,390.3 214.0,387.5 C202.3,384.7 190.7,381.0 180.0,378.0 C169.3,375.0 159.8,372.3 150.0,369.5 C140.2,366.7 125.8,362.4 121.0,361.0 C116.2,359.6 121.0,361.0 121.0,361.0 C120.8,358.6 120.6,356.2 120.4,353.8Z" fill="url(#peLShade)"/>
<path d="M121.0,361.0 C130.7,363.8 140.2,366.7 150.0,369.5 C159.8,372.3 169.3,375.0 180.0,378.0 C190.7,381.0 202.3,384.7 214.0,387.5 C225.7,390.3 239.0,393.2 250.0,395.0 C261.0,396.8 266.4,398.4 280.0,398.5 C293.6,398.6 315.2,397.6 331.9,395.5 C348.6,393.4 364.0,389.2 380.0,386.0" fill="none" stroke="#eeeeee" stroke-width="11"/>
<path d="M121.0,361.0 C130.7,363.8 140.2,366.7 150.0,369.5 C159.8,372.3 169.3,375.0 180.0,378.0 C190.7,381.0 202.3,384.7 214.0,387.5 C225.7,390.3 239.0,393.2 250.0,395.0 C261.0,396.8 266.4,398.4 280.0,398.5 C293.6,398.6 315.2,397.6 331.9,395.5 C348.6,393.4 364.0,389.2 380.0,386.0" fill="none" stroke="#5a5a5a" stroke-width="10" stroke-dasharray="2.6 3.6" opacity="0.85"/>
<path d="M121.0,361.0 C130.7,363.8 140.2,366.7 150.0,369.5 C159.8,372.3 169.3,375.0 180.0,378.0 C190.7,381.0 202.3,384.7 214.0,387.5 C225.7,390.3 239.0,393.2 250.0,395.0 C261.0,396.8 266.4,398.4 280.0,398.5 C293.6,398.6 315.2,397.6 331.9,395.5 C348.6,393.4 363.6,390.1 380.0,386.0 C396.4,381.9 413.3,377.8 430.0,371.0 C446.7,364.2 463.3,354.2 480.0,345.0 C496.7,335.8 516.3,324.0 530.0,316.0 C543.7,308.0 551.3,303.3 562.0,297.0 C574.7,301.7 590.3,307.3 600.0,311.0 C609.7,314.7 608.5,314.7 620.0,319.0 C631.5,323.3 652.4,331.4 669.2,337.0 C686.0,342.6 703.7,348.6 721.0,352.6 C738.3,356.7 755.4,359.1 773.0,361.3 C790.6,363.5 808.7,364.2 826.6,365.6" fill="none" stroke="#f4f4f4" stroke-width="6"/>
<path d="M121.0,361.0 C130.7,363.8 140.2,366.7 150.0,369.5 C159.8,372.3 169.3,375.0 180.0,378.0 C190.7,381.0 202.3,384.7 214.0,387.5 C225.7,390.3 239.0,393.2 250.0,395.0 C261.0,396.8 266.4,398.4 280.0,398.5 C293.6,398.6 315.2,397.6 331.9,395.5 C348.6,393.4 363.6,390.1 380.0,386.0 C396.4,381.9 413.3,377.8 430.0,371.0 C446.7,364.2 463.3,354.2 480.0,345.0 C496.7,335.8 516.3,324.0 530.0,316.0 C543.7,308.0 551.3,303.3 562.0,297.0" fill="none" stroke="#9a9a9a" stroke-width="5" stroke-dasharray="1.3 5.2" opacity="0.8"/>
<path d="M562.0,297.0 C574.7,301.7 590.3,307.3 600.0,311.0 C609.7,314.7 608.5,314.7 620.0,319.0 C631.5,323.3 652.4,331.4 669.2,337.0 C686.0,342.6 703.7,348.6 721.0,352.6 C738.3,356.7 755.4,359.1 773.0,361.3 C790.6,363.5 808.7,364.2 826.6,365.6" fill="none" stroke="#a0a0a0" stroke-width="4" stroke-dasharray="1.4 16" opacity="0.8"/>
<path d="M120.4,304.0 C141.2,300.5 159.4,297.6 182.7,293.6 C206.0,289.6 232.1,284.8 260.0,280.1 C287.9,275.4 330.0,268.8 350.0,265.5 C370.0,262.2 373.3,261.2 380.0,260.6 C386.7,260.1 385.2,261.2 390.4,262.2 C395.6,263.2 405.8,265.9 411.0,266.8 C416.2,267.8 418.0,267.5 421.5,267.9 C435.3,258.2 449.0,249.3 463.0,238.8 C477.0,228.3 491.4,216.3 505.6,205.0 C513.7,207.3 514.3,206.7 530.0,211.8 C545.7,216.9 582.6,230.2 600.0,235.8 C617.4,241.4 623.1,242.7 634.6,245.4 C646.1,248.2 651.9,250.0 669.2,252.3 C686.5,254.6 713.0,257.5 738.4,259.2 C763.8,260.9 793.8,261.5 821.5,262.7 C805.3,264.7 792.6,265.8 773.0,268.7 C753.4,271.6 724.0,277.0 703.8,280.0 C683.6,283.0 664.2,285.7 651.9,286.9 C639.6,288.1 638.6,286.6 630.0,287.3 C621.4,288.0 614.6,288.9 600.0,291.2 C585.4,293.4 562.0,297.8 542.3,300.8 C522.6,303.8 500.1,307.1 481.7,309.4 C463.3,311.7 448.9,312.2 432.0,314.6 C415.1,317.0 397.0,321.4 380.0,324.0 C363.0,326.6 345.0,328.0 330.0,330.0 C315.0,332.0 301.7,334.3 290.0,336.0 C278.3,337.7 271.0,339.8 260.0,340.3 C249.0,340.9 234.5,340.2 224.2,339.3 C213.9,338.4 208.6,338.1 198.2,335.1 C187.8,332.2 174.9,326.8 161.9,321.6 C148.9,316.4 134.2,309.9 120.4,304.0Z" fill="#8c8c8c"/>
<g clip-path="url(#cPa)" style="mix-blend-mode:overlay" opacity="0.65"><rect x="115" y="200" width="710" height="145" fill="#808080" filter="url(#nz)"/></g>
<path d="M120.4,304.0 C141.2,300.5 159.4,297.6 182.7,293.6 C206.0,289.6 232.1,284.8 260.0,280.1 C287.9,275.4 330.0,268.8 350.0,265.5 C370.0,262.2 373.3,261.2 380.0,260.6 C386.7,260.1 385.2,261.2 390.4,262.2 C395.6,263.2 405.8,265.9 411.0,266.8 C416.2,267.8 418.0,267.5 421.5,267.9 C414.6,273.1 407.7,278.5 400.8,283.4 C393.9,288.2 391.8,290.9 380.0,297.0 C368.2,303.1 345.0,313.8 330.0,320.0 C315.0,326.2 301.7,330.6 290.0,334.0 C278.3,337.4 271.0,339.4 260.0,340.3 C249.0,341.2 234.5,340.2 224.2,339.3 C213.9,338.4 208.6,338.1 198.2,335.1 C187.8,332.2 174.9,326.8 161.9,321.6 C148.9,316.4 134.2,309.9 120.4,304.0Z" fill="#b6b6b6"/>
<g clip-path="url(#cPaL)" style="mix-blend-mode:overlay" opacity="0.4"><rect x="115" y="200" width="710" height="145" fill="#808080" filter="url(#nz)"/></g>
<path d="M421.5,267.9 C435.3,258.2 449.0,249.3 463.0,238.8 C477.0,228.3 491.4,216.3 505.6,205.0" stroke="#dcdcdc" stroke-width="1.5" fill="none" opacity="0.8"/>
<path d="M421.5,267.9 C414.6,273.1 407.7,278.5 400.8,283.4 C393.9,288.2 391.8,290.9 380.0,297.0 C368.2,303.1 345.0,313.8 330.0,320.0 C315.0,326.2 303.3,329.3 290.0,334.0" stroke="#d0d0d0" stroke-width="1.5" fill="none" opacity="0.7"/>
<line x1="1075.5" y1="252" x2="658.4" y2="252" stroke="#1b2a47" stroke-width="2" stroke-dasharray="6.5 4.2"/>
<circle cx="649.4" cy="250.9" r="9" fill="#050505"/>
<line x1="1075.5" y1="321.8" x2="638.5" y2="321.8" stroke="#1b2a47" stroke-width="2" stroke-dasharray="6.5 4.2"/>
<circle cx="629.5" cy="320.2" r="9" fill="#050505"/>
<line x1="1075.5" y1="405.6" x2="649.3" y2="405.6" stroke="#1b2a47" stroke-width="2" stroke-dasharray="6.5 4.2"/>
<circle cx="640.3" cy="402.4" r="9" fill="#050505"/>
<line x1="1075.5" y1="473.5" x2="776.5" y2="473.5" stroke="#1b2a47" stroke-width="2" stroke-dasharray="6.5 4.2"/>
<circle cx="767.5" cy="472.7" r="9" fill="#050505"/>
<line x1="1075.5" y1="608" x2="677.3" y2="608" stroke="#1b2a47" stroke-width="2" stroke-dasharray="6.5 4.2"/>
<circle cx="668.3" cy="607.6" r="9" fill="#050505"/>
<line x1="1075.5" y1="753" x2="628.0" y2="753" stroke="#1b2a47" stroke-width="2" stroke-dasharray="6.5 4.2"/>
<circle cx="619" cy="752.2" r="9" fill="#050505"/>
</svg>
<div class="lab" style="left:1092.63px;top:234.34px;font-size:31.60px;transform:scaleX(0.9375);">PA Coating</div>
<div class="lab" style="left:1096.76px;top:300.44px;font-size:31.60px;transform:scaleX(0.6878);">PE</div>
<div class="lab" style="left:1096.10px;top:387.64px;font-size:31.60px;transform:scaleX(0.9115);">Aluminun</div>
<div class="lab" style="left:1096.56px;top:453.04px;font-size:31.60px;transform:scaleX(0.6878);">PE</div>
<div class="lab" style="left:1094.92px;top:590.24px;font-size:31.60px;transform:scaleX(0.7817);">PEVA</div>
<div class="lab" style="left:1093.98px;top:734.24px;font-size:31.60px;transform:scaleX(0.8989);">Soft Cotton</div>
<div id="panel"></div>
<div id="photo"><svg width="796" height="486" viewBox="47 898 796 486">
<defs>
<pattern id="fabric" width="6.2" height="6.2" patternUnits="userSpaceOnUse" patternTransform="rotate(-1)"><rect width="6.2" height="6.2" fill="#5a5e66"/><rect x="0.7" y="0.7" width="4.8" height="4.8" rx="1.2" fill="#23262c"/><circle cx="3.1" cy="3.1" r="1" fill="#555961"/></pattern>
<pattern id="hem" width="4.2" height="4.2" patternUnits="userSpaceOnUse" patternTransform="rotate(45)"><rect width="4.2" height="4.2" fill="#25272c"/><rect width="2.1" height="2.1" fill="#60636a"/></pattern>
<filter id="pnz" x="0" y="0" width="1" height="1" filterUnits="objectBoundingBox" color-interpolation-filters="sRGB">
<feTurbulence type="fractalNoise" baseFrequency="0.5" numOctaves="3" seed="11"/>
<feColorMatrix type="matrix" values="0.33 0.33 0.33 0 0  0.33 0.33 0.33 0 0  0.33 0.33 0.33 0 0  0 0 0 0 1"/>
<feComponentTransfer><feFuncR type="linear" slope="2.2" intercept="-0.6"/><feFuncG type="linear" slope="2.2" intercept="-0.6"/><feFuncB type="linear" slope="2.2" intercept="-0.6"/></feComponentTransfer>
</filter>
<filter id="pnz2" x="0" y="0" width="1" height="1" filterUnits="objectBoundingBox" color-interpolation-filters="sRGB">
<feTurbulence type="fractalNoise" baseFrequency="0.025" numOctaves="2" seed="5"/>
<feColorMatrix type="matrix" values="0.33 0.33 0.33 0 0  0.33 0.33 0.33 0 0  0.33 0.33 0.33 0 0  0 0 0 0 1"/>
<feComponentTransfer><feFuncR type="linear" slope="3" intercept="-1"/><feFuncG type="linear" slope="3" intercept="-1"/><feFuncB type="linear" slope="3" intercept="-1"/></feComponentTransfer>
</filter>
<filter id="pbl" x="-0.2" y="-0.2" width="1.4" height="1.4"><feGaussianBlur stdDeviation="9"/></filter>
<filter id="pbl2" x="-0.2" y="-0.2" width="1.4" height="1.4"><feGaussianBlur stdDeviation="1.6"/></filter>
<linearGradient id="lightG" x1="0" y1="0" x2="1" y2="1"><stop offset="0" stop-color="#dedfe1"/><stop offset="0.6" stop-color="#d6d7d9"/><stop offset="1" stop-color="#d2d3d5"/></linearGradient>
</defs>
<rect x="47" y="898" width="796" height="486" fill="url(#lightG)"/>
<g style="mix-blend-mode:overlay" opacity="0.6"><rect x="47" y="898" width="796" height="486" fill="#808080" filter="url(#pnz)"/></g>
<g style="mix-blend-mode:overlay" opacity="0.14"><rect x="47" y="898" width="796" height="486" fill="#808080" filter="url(#pnz2)"/></g>
<path d="M815.7,894 L152.3,1388" stroke="#6d6d6d" stroke-width="22" filter="url(#pbl)" opacity="0.7"/>
<path d="M47,898 L809.7,898 L146.3,1384 L47,1384Z" fill="url(#fabric)"/>
<path d="M692,898 L809.7,898 L146.3,1384 L47,1384 L47,1364.5Z" fill="url(#hem)" opacity="0.22"/>
<path d="M688,898 L47,1360.5" stroke="#1a1c20" stroke-width="3.5" filter="url(#pbl2)" opacity="0.85"/>
<path d="M782,898 L440,1138 L97,1384" stroke="#1a1c20" stroke-width="3.5" filter="url(#pbl2)" opacity="0.85"/>
<path d="M809.7,898 L146.3,1384" stroke="#1c1e22" stroke-width="3" filter="url(#pbl2)"/>
<rect x="840" y="898" width="3" height="486" fill="#e4e8f0" opacity="0.7"/>

</svg></div>
<div class="bt" style="left:908.74px;top:1040.26px;font-size:45.70px;transform:scaleX(0.8936);">100% UV and rain/snow</div>
<div class="bt" style="left:1016.42px;top:1102.45px;font-size:45.70px;transform:scaleX(0.9415);">protection,</div>
<div class="bt" style="left:922.08px;top:1166.95px;font-size:45.70px;transform:scaleX(0.9261);">thick and durable new</div>
<div class="bt" style="left:1059.09px;top:1229.05px;font-size:45.70px;transform:scaleX(0.8896);">fabric.</div>
<div style="position:absolute;left:0;top:1441px;width:1445px;height:1px;background:#a9c4ec"></div><div style="position:absolute;left:0;top:1442px;width:1445px;height:3px;background:#c9ddf8"></div>
</body></html>
